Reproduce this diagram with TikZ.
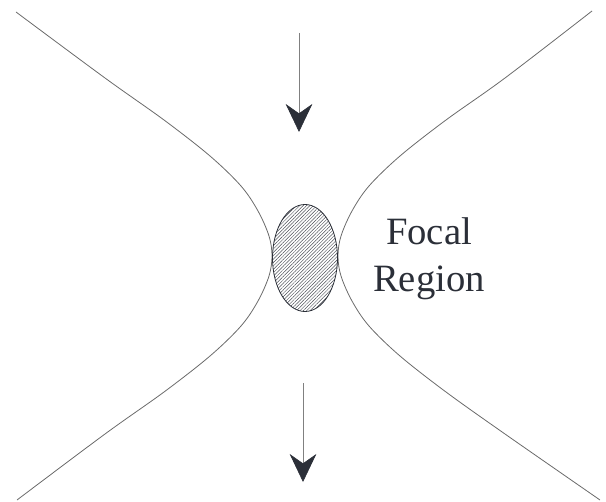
\documentclass[tikz,border=0pt]{standalone}
\usepackage{fontspec}
\setmainfont{Liberation Serif}
\usetikzlibrary{arrows.meta,shapes.geometric,patterns.meta}
\definecolor{ink}{HTML}{2B2F38}
\definecolor{curve}{HTML}{6A6A6A}
\tikzset{
  every node/.style={text=ink},
  beam/.style={draw=curve,line width=0.6pt,smooth,tension=0.55},
  focus/.style={ellipse,draw=ink,line width=0.6pt,minimum width=48.75pt,minimum height=80.25pt,inner sep=0pt,
    pattern={Lines[angle=45,distance=1.8pt,line width=0.35pt]},pattern color=ink!85},
  flow/.style={draw=curve!85,line width=0.5pt,-{Stealth[length=21pt,width=20pt,inset=7pt,color=ink]}},
  lbl/.style={font=\fontsize{29}{35}\selectfont,align=center,inner sep=0pt}
}

\begin{document}
\begin{tikzpicture}[x=0.75pt,y=-0.75pt]
  \useasboundingbox (0,0) rectangle (606,502);
  % beam envelope
  \draw[beam] plot coordinates {(16,12) (105,78) (164,120) (210,156) (241,186) (258,211) (269,236) (272,256)
    (269,276) (258,301) (241,326) (210,356) (164,392) (105,434) (17,500)};
  \draw[beam] plot coordinates {(592,11) (505,78) (446,120) (400,156) (369,186) (352,211) (341,236) (338,256)
    (341,276) (352,301) (369,326) (400,356) (446,392) (505,434) (600,500)};

  \node[focus] (spot) at (305,258) {};
  \node[lbl] (region) at (429,259) {Focal\\Region};

  \coordinate (inTop) at (299,33);
  \coordinate (inTip) at (299,132);
  \coordinate (outTop) at (303,383);
  \coordinate (outTip) at (303,482);
  \draw[flow] (inTop)--(inTip);
  \draw[flow] (outTop)--(outTip);
\end{tikzpicture}
\end{document}
